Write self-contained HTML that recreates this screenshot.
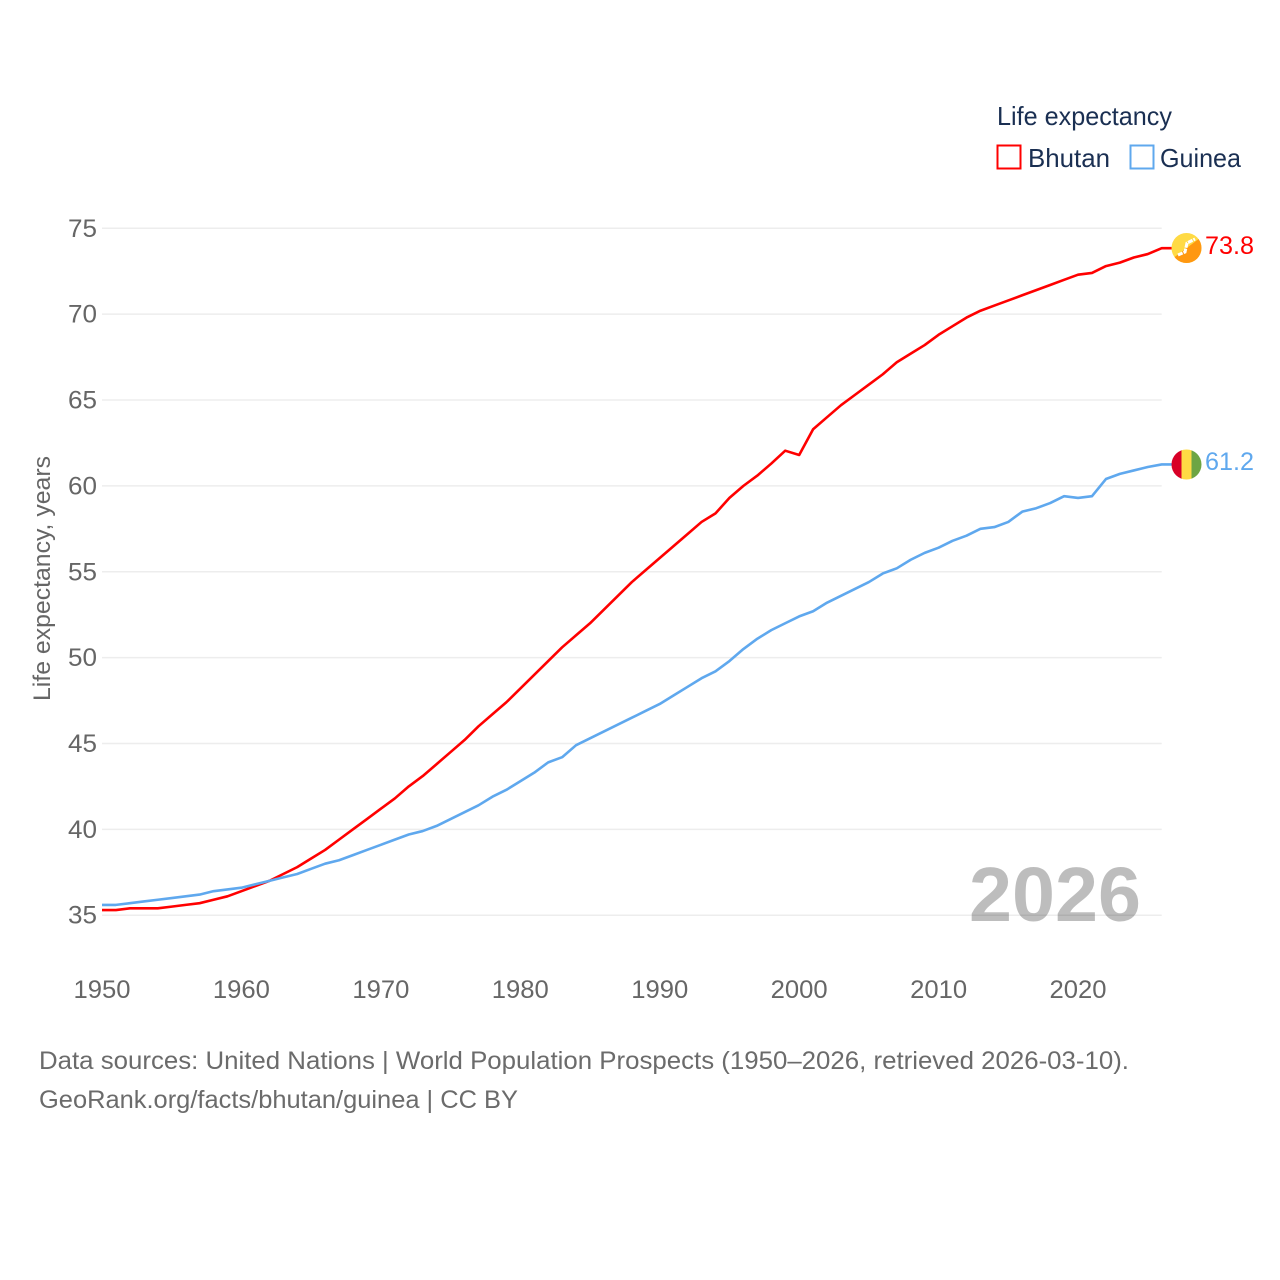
<!DOCTYPE html>
<html lang="en">
<head>
<meta charset="utf-8">
<title>Life expectancy: Bhutan and Guinea</title>
<style>
html,body{margin:0;padding:0;background:#fff;width:1280px;height:1280px;overflow:hidden}
svg{display:block}
text{font-family:"Liberation Sans",sans-serif}
</style>
</head>
<body>
<svg id="chart" xmlns="http://www.w3.org/2000/svg" width="1280" height="1280" viewBox="0 0 1280 1280">
  <defs>
    <clipPath id="clip-bt"><circle cx="1186.5" cy="248" r="15"/></clipPath>
    <clipPath id="clip-gn"><circle cx="1186.5" cy="464.5" r="15"/></clipPath>
  </defs>
  <g id="grid"></g>
  <g id="yticks"></g>
  <g id="xticks"></g>
  <text transform="translate(50,701) rotate(-90)" font-size="24" fill="#666" textLength="245" lengthAdjust="spacingAndGlyphs">Life expectancy, years</text>
  <text x="969" y="921" font-size="77" font-weight="700" fill="#000" fill-opacity="0.26" textLength="172" lengthAdjust="spacingAndGlyphs">2026</text>
  <g id="series"></g>

  <g clip-path="url(#clip-bt)">
    <rect x="1171" y="233" width="31" height="31" fill="#ffda44"/>
    <polygon points="1170,260.5 1203,235.8 1203,265 1170,265" fill="#ff9811"/>
    <polyline points="1178,255 1185,252 1187,243 1195,239" fill="none" stroke="#fff" stroke-width="3" stroke-dasharray="5 1"/>
  </g>
  <g clip-path="url(#clip-gn)">
    <rect x="1171" y="449" width="11" height="31" fill="#d80027"/>
    <rect x="1181.5" y="449" width="10" height="31" fill="#ffda44"/>
    <rect x="1191.5" y="449" width="11" height="31" fill="#6da544"/>
  </g>
  <text x="1205" y="254" font-size="25" fill="#ff0000" textLength="49" lengthAdjust="spacingAndGlyphs">73.8</text>
  <text x="1205" y="470" font-size="25" fill="#5fa8ee" textLength="49" lengthAdjust="spacingAndGlyphs">61.2</text>

  <g>
    <text x="997" y="125" font-size="26" fill="#1a2f52" textLength="175" lengthAdjust="spacingAndGlyphs">Life expectancy</text>
    <rect x="997.5" y="145.5" width="23" height="23" fill="none" stroke="#ff0000" stroke-width="2"/>
    <text x="1028" y="167" font-size="26" fill="#1a2f52" textLength="82" lengthAdjust="spacingAndGlyphs">Bhutan</text>
    <rect x="1130.5" y="145.5" width="23" height="23" fill="none" stroke="#5fa8ee" stroke-width="2"/>
    <text x="1160" y="167" font-size="26" fill="#1a2f52" textLength="81" lengthAdjust="spacingAndGlyphs">Guinea</text>
  </g>

  <text x="39" y="1069" font-size="25" fill="#6b6b6b" textLength="1090" lengthAdjust="spacingAndGlyphs">Data sources: United Nations | World Population Prospects (1950–2026, retrieved 2026-03-10).</text>
  <text x="39" y="1108" font-size="25" fill="#6b6b6b" textLength="479" lengthAdjust="spacingAndGlyphs">GeoRank.org/facts/bhutan/guinea | CC BY</text>
</svg>
<script>
const startYear = 1950;
const yTickValues = [35, 40, 45, 50, 55, 60, 65, 70, 75];
const xTickValues = [1950, 1960, 1970, 1980, 1990, 2000, 2010, 2020];
const bhutanValues = [35.3,35.3,35.4,35.4,35.4,35.5,35.6,35.7,35.9,36.1,36.4,36.7,37.0,37.4,37.8,38.3,38.8,39.4,40.0,40.6,41.2,41.8,42.5,43.1,43.8,44.5,45.2,46.0,46.7,47.4,48.2,49.0,49.8,50.6,51.3,52.0,52.8,53.6,54.4,55.1,55.8,56.5,57.2,57.9,58.4,59.3,60.0,60.6,61.3,62.05,61.8,63.3,64.0,64.7,65.3,65.9,66.5,67.2,67.7,68.2,68.8,69.3,69.8,70.2,70.5,70.8,71.1,71.4,71.7,72.0,72.3,72.4,72.8,73.0,73.3,73.5,73.84];
const guineaValues = [35.6,35.6,35.7,35.8,35.9,36.0,36.1,36.2,36.4,36.5,36.6,36.8,37.0,37.2,37.4,37.7,38.0,38.2,38.5,38.8,39.1,39.4,39.7,39.9,40.2,40.6,41.0,41.4,41.9,42.3,42.8,43.3,43.9,44.2,44.9,45.3,45.7,46.1,46.5,46.9,47.3,47.8,48.3,48.8,49.2,49.8,50.5,51.1,51.6,52.0,52.4,52.7,53.2,53.6,54.0,54.4,54.9,55.2,55.7,56.1,56.4,56.8,57.1,57.5,57.6,57.9,58.5,58.7,59.0,59.4,59.3,59.4,60.4,60.7,60.9,61.1,61.25];

const NS = 'http://www.w3.org/2000/svg';
function xScale(year) { return 102 + (year - 1950) * (1161.7 - 102) / 76; }
function yScale(v) { return 915.2 - (v - 35) * (915.2 - 228.3) / 40; }
function make(tag, attrs, parent) {
  const el = document.createElementNS(NS, tag);
  for (const k in attrs) el.setAttribute(k, attrs[k]);
  parent.appendChild(el);
  return el;
}
const grid = document.getElementById('grid');
const yticks = document.getElementById('yticks');
const xticks = document.getElementById('xticks');
const series = document.getElementById('series');

yTickValues.forEach(function (v) {
  const line = make('line', {x1: 102, x2: 1161.7, y1: yScale(v), y2: yScale(v), stroke: '#ededed', 'stroke-width': 1.5}, grid);
  
  
  const label = make('text', {x: 97, y: yScale(v) + 8.5, 'text-anchor': 'end', 'font-size': 25, fill: '#666', textLength: 29, lengthAdjust: 'spacingAndGlyphs'}, yticks);
  label.textContent = v;
  
  
});
xTickValues.forEach(function (y) {
  const label = make('text', {x: xScale(y), y: 998, 'text-anchor': 'middle', 'font-size': 25, fill: '#666', textLength: 57, lengthAdjust: 'spacingAndGlyphs'}, xticks);
  label.textContent = y;
  
  
});
function drawSeries(values, color) {
  const pts = values.map(function (v, i) { return xScale(startYear + i) + ',' + yScale(v); });
  const last = values[values.length - 1];
  pts.push('1172,' + yScale(last));
  return make('polyline', {points: pts.join(' '), fill: 'none', stroke: color, 'stroke-width': 2.6, 'stroke-linejoin': 'round'}, series);
}
const bhutanLine = drawSeries(bhutanValues, '#ff0000');


const guineaLine = drawSeries(guineaValues, '#5fa8ee');


</script>
</body>
</html>
